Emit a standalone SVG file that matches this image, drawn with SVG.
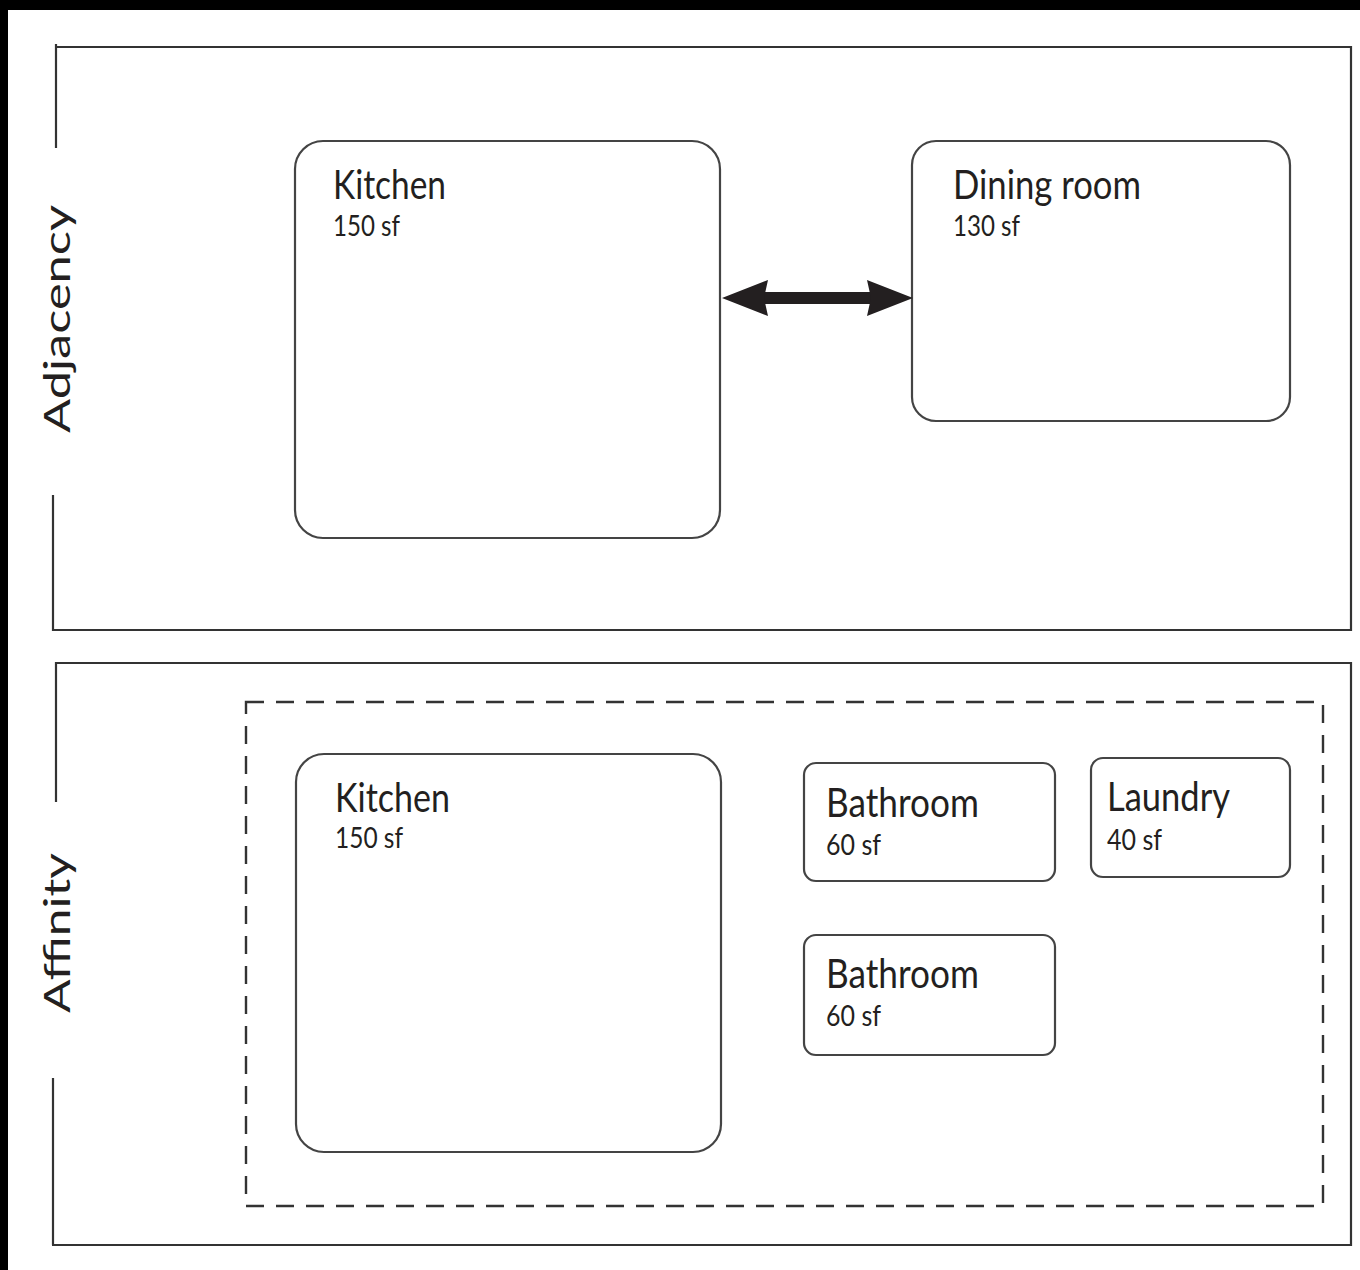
<svg xmlns="http://www.w3.org/2000/svg" width="1360" height="1270" viewBox="0 0 1360 1270">
<defs>
<style>
.panel{fill:none;stroke:#333;stroke-width:2.2}
.node{fill:#fff;stroke:#444;stroke-width:2.2}
.dash{fill:none;stroke:#333;stroke-width:2.4;stroke-dasharray:18 12}
.title{font-family:Lato,"Liberation Sans",sans-serif;font-size:40px;fill:#231f20}
.area{font-family:Lato,"Liberation Sans",sans-serif;font-size:28px;fill:#231f20}
.side{font-family:Lato,"Liberation Sans",sans-serif;font-size:36px;fill:#231f20}
</style>
<marker id="head" viewBox="0 0 46 36" refX="4" refY="18" markerWidth="46" markerHeight="36" markerUnits="userSpaceOnUse" orient="auto-start-reverse">
<path d="M0,0 L46,18 L0,36 L4,18 z" fill="#231f20"/>
</marker>
</defs>
<rect x="0" y="0" width="1360" height="1270" fill="#000"/>
<rect x="8" y="10" width="1352" height="1260" fill="#fff"/>

<g id="panel-adjacency">
<path class="panel" d="M56,44 V148 M56,47 H1351 V630 H53 V495"/>
<text class="side" transform="translate(70,319) rotate(-90)" text-anchor="middle" textLength="228" lengthAdjust="spacingAndGlyphs">Adjacency</text>
</g>

<g id="panel-affinity">
<path class="panel" d="M56,802 V663 H1351 V1245 H52 M53,1245 V1078"/>
<text class="side" transform="translate(70,933) rotate(-90)" text-anchor="middle" textLength="160" lengthAdjust="spacingAndGlyphs">Affinity</text>
</g>

<g id="affinity-group">
<rect class="dash" x="246" y="702" width="1077" height="504"/>
</g>

<g id="kitchen-1">
<rect class="node" x="295" y="141" width="425" height="397" rx="28"/>
<text class="title" x="333" y="199" textLength="113" lengthAdjust="spacingAndGlyphs">Kitchen</text>
<text class="area" x="333" y="236" textLength="67" lengthAdjust="spacingAndGlyphs">150 sf</text>
</g>

<g id="dining-room">
<rect class="node" x="912" y="141" width="378" height="280" rx="24"/>
<text class="title" x="953" y="199" textLength="188" lengthAdjust="spacingAndGlyphs">Dining room</text>
<text class="area" x="953" y="236" textLength="67" lengthAdjust="spacingAndGlyphs">130 sf</text>
</g>

<g id="kitchen-2">
<rect class="node" x="296" y="754" width="425" height="398" rx="28"/>
<text class="title" x="335" y="812" textLength="115" lengthAdjust="spacingAndGlyphs">Kitchen</text>
<text class="area" x="335" y="848" textLength="68" lengthAdjust="spacingAndGlyphs">150 sf</text>
</g>

<g id="bathroom-1">
<rect class="node" x="804" y="763" width="251" height="118" rx="12"/>
<text class="title" x="826" y="817" textLength="153" lengthAdjust="spacingAndGlyphs">Bathroom</text>
<text class="area" x="826" y="855" textLength="55" lengthAdjust="spacingAndGlyphs">60 sf</text>
</g>

<g id="laundry">
<rect class="node" x="1091" y="758" width="199" height="119" rx="12"/>
<text class="title" x="1107" y="811" textLength="123" lengthAdjust="spacingAndGlyphs">Laundry</text>
<text class="area" x="1107" y="850" textLength="55" lengthAdjust="spacingAndGlyphs">40 sf</text>
</g>

<g id="bathroom-2">
<rect class="node" x="804" y="935" width="251" height="120" rx="12"/>
<text class="title" x="826" y="988" textLength="153" lengthAdjust="spacingAndGlyphs">Bathroom</text>
<text class="area" x="826" y="1026" textLength="55" lengthAdjust="spacingAndGlyphs">60 sf</text>
</g>

<g id="connectors">
<line x1="764" y1="298" x2="871" y2="298" stroke="#231f20" stroke-width="12" marker-start="url(#head)" marker-end="url(#head)"/>
</g>
</svg>
